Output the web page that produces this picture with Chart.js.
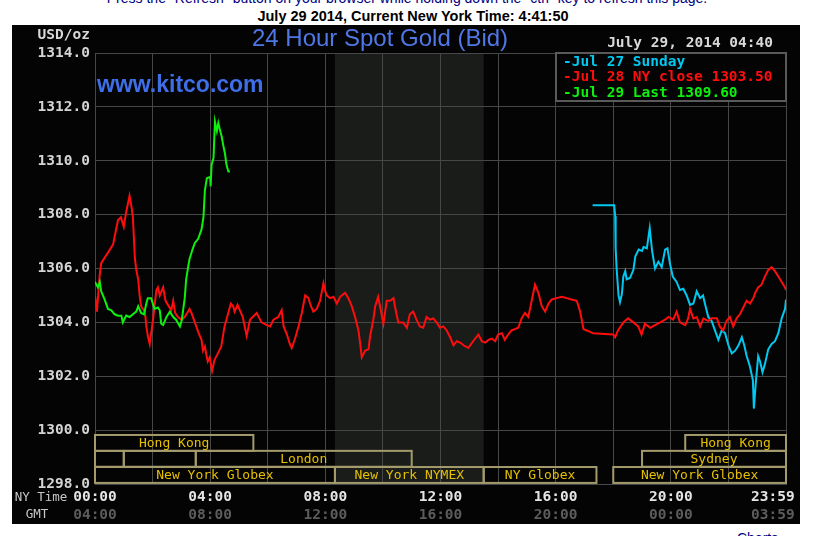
<!DOCTYPE html>
<html>
<head>
<meta charset="utf-8">
<title>24 Hour Spot Gold (Bid)</title>
<script src="https://cdn.jsdelivr.net/npm/chart.js@4.4.1/dist/chart.umd.min.js"></script>
<style>
  html, body { margin: 0; padding: 0; background: #fff; }
  body { width: 814px; height: 536px; overflow: hidden; position: relative; font-family: "Liberation Sans", Arial, sans-serif; }
  #note { position: absolute; top: -10px; left: 0; width: 814px; text-align: center; font-size: 14px; color: #000080; white-space: nowrap; }
  #stamp { position: absolute; top: 8px; left: 6px; width: 814px; text-align: center; font-size: 14.5px; font-weight: bold; color: #000; white-space: nowrap; }
  #more { position: absolute; top: 530px; left: 737px; font-size: 14px; color: #000080; }
  #chart { position: absolute; left: 12px; top: 25px; background: #040404; }
</style>
</head>
<body>
<div id="note">Press the "Refresh" button on your browser while holding down the "ctrl" key to refresh this page.</div>
<div id="stamp">July 29 2014, Current New York Time: 4:41:50</div>
<canvas id="chart" width="788" height="499"></canvas>
<div id="more">Charts</div>
<script>
// time is minutes after midnight, New York time
const jul27Sunday = [
  [1037, 1308.35], [1082, 1308.35], [1084, 1307.95], [1085, 1306.75], [1087, 1306.0], [1091, 1305.0],
  [1094, 1304.75], [1098, 1305.05], [1101, 1305.7], [1105, 1305.9], [1108, 1305.6], [1115, 1305.65],
  [1122, 1305.95], [1126, 1306.45], [1133, 1306.7], [1140, 1306.65], [1143, 1306.8], [1150, 1306.75],
  [1156, 1307.5], [1161, 1306.65], [1167, 1306.0], [1174, 1306.25], [1181, 1306.05], [1188, 1306.7],
  [1193, 1306.75], [1198, 1306.2], [1204, 1305.7], [1212, 1305.5], [1219, 1305.2], [1226, 1305.25],
  [1233, 1305.0], [1240, 1304.65], [1247, 1304.7], [1254, 1305.15], [1261, 1304.9], [1267, 1305.0],
  [1271, 1304.7], [1278, 1304.2], [1285, 1304.05], [1292, 1303.7], [1299, 1303.35], [1306, 1303.7],
  [1313, 1303.6], [1320, 1303.15], [1327, 1302.85], [1334, 1302.95], [1341, 1303.15], [1348, 1303.45],
  [1353, 1303.15], [1358, 1302.75], [1365, 1302.35], [1371, 1301.85], [1373, 1300.8], [1377, 1301.75],
  [1382, 1302.75], [1386, 1302.55], [1391, 1302.15], [1396, 1302.45], [1403, 1303.0], [1410, 1303.2],
  [1417, 1303.3], [1424, 1303.6], [1431, 1304.15], [1438, 1304.5], [1440, 1304.85]
];

const jul28Close = [
  [0, 1305.0], [4, 1304.4], [10, 1305.8], [13, 1306.2], [20, 1306.4], [31, 1306.7], [38, 1306.9],
  [41, 1307.2], [48, 1307.8], [54, 1307.9], [60, 1307.55], [65, 1308.1], [72, 1308.7], [76, 1308.3],
  [79, 1307.9], [83, 1306.4], [86, 1305.95], [90, 1305.6], [93, 1305.0], [96, 1304.6], [104, 1304.4],
  [107, 1303.85], [110, 1303.5], [114, 1303.2], [117, 1303.6], [121, 1304.1], [124, 1304.6], [128, 1305.2],
  [131, 1305.3], [135, 1305.0], [142, 1305.3], [147, 1304.8], [152, 1304.65], [159, 1304.45], [163, 1304.8],
  [167, 1304.35], [173, 1304.2], [180, 1304.1], [187, 1304.2], [194, 1304.4], [197, 1304.5], [201, 1304.35],
  [206, 1304.1], [211, 1303.85], [216, 1303.6], [222, 1303.35], [225, 1302.95], [229, 1303.1], [232, 1302.8],
  [235, 1302.55], [239, 1302.7], [244, 1302.2], [249, 1302.6], [256, 1302.85], [263, 1303.1], [270, 1303.85],
  [277, 1304.3], [283, 1304.7], [288, 1304.6], [291, 1304.4], [297, 1304.65], [308, 1304.2], [316, 1303.5],
  [323, 1304.1], [337, 1304.35], [347, 1304.0], [358, 1303.9], [365, 1303.85], [372, 1304.1], [382, 1304.2],
  [389, 1304.45], [393, 1303.85], [400, 1303.55], [406, 1303.2], [410, 1303.05], [417, 1303.4], [424, 1303.85],
  [431, 1304.35], [438, 1305.0], [445, 1304.9], [448, 1304.7], [455, 1304.4], [462, 1304.5], [469, 1304.8],
  [476, 1305.45], [479, 1305.2], [483, 1305.0], [490, 1304.9], [497, 1304.95], [504, 1304.7], [511, 1304.95],
  [521, 1305.1], [528, 1304.9], [535, 1304.6], [542, 1304.2], [549, 1303.7], [552, 1303.3], [556, 1302.7],
  [563, 1302.95], [570, 1303.0], [573, 1303.45], [580, 1304.1], [584, 1304.6], [590, 1304.95], [594, 1304.6],
  [601, 1303.95], [608, 1304.8], [615, 1304.8], [622, 1304.9], [625, 1304.6], [632, 1304.0], [642, 1304.0],
  [650, 1303.8], [656, 1304.3], [663, 1304.4], [670, 1304.1], [677, 1303.85], [684, 1303.8], [691, 1304.2],
  [698, 1304.1], [705, 1304.15], [712, 1304.0], [719, 1303.8], [726, 1303.85], [733, 1303.7], [740, 1303.45],
  [747, 1303.15], [754, 1303.3], [761, 1303.25], [768, 1303.15], [778, 1303.05], [788, 1303.3], [799, 1303.55],
  [806, 1303.3], [813, 1303.25], [820, 1303.35], [827, 1303.4], [834, 1303.3], [840, 1303.55], [848, 1303.6],
  [854, 1303.35], [861, 1303.55], [868, 1303.7], [875, 1303.75], [882, 1303.8], [889, 1304.15], [896, 1304.35],
  [903, 1304.2], [910, 1304.8], [917, 1305.4], [924, 1305.1], [931, 1304.6], [938, 1304.4], [945, 1304.7],
  [952, 1304.85], [962, 1304.9], [973, 1304.95], [983, 1304.9], [993, 1304.85], [1004, 1304.8], [1011, 1304.4],
  [1018, 1303.75], [1025, 1303.7], [1032, 1303.65], [1038, 1303.6], [1080, 1303.55], [1084, 1303.45],
  [1090, 1303.7], [1101, 1304.0], [1111, 1304.15], [1122, 1304.0], [1132, 1303.85], [1139, 1303.55],
  [1146, 1303.95], [1157, 1303.8], [1167, 1303.9], [1178, 1304.0], [1188, 1304.1], [1195, 1304.2],
  [1205, 1304.1], [1212, 1304.4], [1219, 1304.0], [1230, 1303.9], [1236, 1304.15], [1240, 1304.5],
  [1247, 1304.15], [1254, 1304.2], [1261, 1303.85], [1268, 1304.15], [1278, 1304.05], [1285, 1304.15],
  [1296, 1304.15], [1302, 1303.85], [1309, 1303.7], [1316, 1304.05], [1323, 1304.2], [1330, 1303.85],
  [1337, 1304.15], [1344, 1304.3], [1351, 1304.55], [1358, 1304.8], [1365, 1304.7], [1372, 1304.9],
  [1376, 1305.1], [1382, 1305.3], [1389, 1305.4], [1396, 1305.7], [1403, 1305.95], [1410, 1306.05],
  [1417, 1305.9], [1424, 1305.7], [1431, 1305.5], [1438, 1305.3], [1440, 1305.2]
];

const jul29Last = [
  [0, 1305.5], [6, 1305.3], [10, 1305.5], [13, 1305.15], [20, 1304.85], [27, 1304.5], [34, 1304.45],
  [41, 1304.3], [48, 1304.25], [55, 1304.25], [58, 1304.0], [65, 1304.25], [72, 1304.2], [79, 1304.3],
  [86, 1304.4], [90, 1304.6], [96, 1304.35], [102, 1304.3], [107, 1304.7], [110, 1304.9], [117, 1304.9],
  [124, 1304.5], [131, 1304.55], [135, 1304.45], [138, 1303.95], [142, 1303.9], [149, 1304.2], [156, 1304.4],
  [163, 1304.2], [169, 1304.1], [177, 1303.85], [181, 1304.1], [187, 1304.9], [190, 1305.6], [194, 1306.05],
  [197, 1306.35], [204, 1306.75], [208, 1306.95], [215, 1307.1], [222, 1307.45], [226, 1307.9], [229, 1308.9],
  [233, 1309.35], [240, 1309.4], [241, 1309.05], [243, 1309.85], [247, 1310.1], [250, 1311.45], [254, 1311.1],
  [257, 1311.4], [261, 1311.1], [264, 1310.9], [267, 1310.6], [271, 1310.25], [274, 1309.85], [278, 1309.6],
  [281, 1309.6]
];

const seriesLabels = ["Jul 27 Sunday", "Jul 28 NY close 1303.50", "Jul 29 Last 1309.60"];
const nyTimeLabels = ["00:00", "04:00", "08:00", "12:00", "16:00", "20:00", "23:59"];
const gmtLabels = ["04:00", "08:00", "12:00", "16:00", "20:00", "00:00", "03:59"];

// trading sessions: [start, end, name], one list per strip
const asiaStrip = [[0, 330, "Hong Kong"], [1230, 1440, "Hong Kong"]];
const londonStrip = [[0, 60, ""], [60, 210, ""], [210, 660, "London"], [1140, 1440, "Sydney"]];
const newYorkStrip = [[0, 500, "New York Globex"], [500, 810, "New York NYMEX"], [810, 1045, "NY Globex"], [1080, 1440, "New York Globex"]];
const nymexFloor = [500, 810];

const MONO = "DejaVu Sans Mono";
const COLORS = ["#00c8f0", "#ff0d0d", "#0df00d"];
const GRID = "#474747";

function toPoints(series) {
  return series.map(p => ({ x: p[0], y: p[1] }));
}

const kitcoFrame = {
  id: "kitcoFrame",
  beforeDraw(chart) {
    const { ctx, chartArea: a, scales: { x } } = chart;
    ctx.save();
    ctx.fillStyle = "#040404";
    ctx.fillRect(0, 0, chart.width, chart.height);
    const l = x.getPixelForValue(nymexFloor[0]);
    const r = x.getPixelForValue(nymexFloor[1]);
    ctx.fillStyle = "#1a1c1a";
    ctx.fillRect(l, a.top, r - l, a.bottom - a.top);
    ctx.restore();
  },
  beforeDatasetsDraw(chart) {
    const { ctx, scales: { x, y } } = chart;
    const stripTops = [1299.82, 1299.23, 1298.63];
    const stripDepth = 0.59;
    ctx.save();
    ctx.lineWidth = 2;
    ctx.strokeStyle = "#a39b6c";
    ctx.fillStyle = "#e6c000";
    ctx.font = "13px " + MONO;
    ctx.textAlign = "center";
    ctx.textBaseline = "middle";
    [asiaStrip, londonStrip, newYorkStrip].forEach((strip, i) => {
      const top = y.getPixelForValue(stripTops[i]);
      const bottom = y.getPixelForValue(stripTops[i] - stripDepth);
      strip.forEach(s => {
        const l = x.getPixelForValue(s[0]);
        const r = x.getPixelForValue(s[1]);
        ctx.strokeRect(l, top, r - l, bottom - top);
        if (s[2]) ctx.fillText(s[2], (l + r) / 2, (top + bottom) / 2 + 1);
      });
    });
    ctx.restore();
  },
  afterDraw(chart) {
    const { ctx, chartArea: a } = chart;
    ctx.save();
    ctx.textBaseline = "middle";

    ctx.fillStyle = "#4f78e6";
    ctx.font = "24px 'Liberation Sans', Arial, sans-serif";
    ctx.textAlign = "center";
    ctx.fillText("24 Hour Spot Gold (Bid)", 368, 14);

    ctx.fillStyle = "#3f6fe8";
    ctx.font = "bold 23px 'Liberation Sans', Arial, sans-serif";
    ctx.textAlign = "left";
    ctx.fillText("www.kitco.com", 85, 61);

    ctx.font = "bold 14.5px " + MONO;
    ctx.fillStyle = "#d8d8d8";
    ctx.textAlign = "right";
    ctx.fillText("July 29, 2014 04:40", 761, 18);
    ctx.fillText("USD/oz", 78, 10);

    ctx.font = "12.5px " + MONO;
    ctx.fillStyle = "#c8c8c8";
    ctx.textAlign = "center";
    ctx.fillText("NY Time", 29, 473);
    ctx.fillText("GMT", 25, 490);

    // legend box in the top right corner of the plot
    const w = 230, h = 48;
    ctx.fillStyle = "#040404";
    ctx.fillRect(a.right - w, a.top, w, h);
    ctx.strokeStyle = "#5a5a5a";
    ctx.lineWidth = 2;
    ctx.strokeRect(a.right - w, a.top, w, h);
    ctx.font = "bold 14.5px " + MONO;
    ctx.textAlign = "left";
    seriesLabels.forEach((label, i) => {
      ctx.fillStyle = COLORS[i];
      ctx.fillText("-" + label, a.right - w + 7, a.top + 9 + i * 15.5);
    });
    ctx.restore();
  }
};

const tickFont = { family: MONO, size: 14.5, weight: "bold" };

new Chart(document.getElementById("chart"), {
  type: "line",
  data: {
    datasets: [
      { label: seriesLabels[2], data: toPoints(jul29Last), borderColor: COLORS[2] },
      { label: seriesLabels[1], data: toPoints(jul28Close), borderColor: COLORS[1] },
      { label: seriesLabels[0], data: toPoints(jul27Sunday), borderColor: COLORS[0] }
    ]
  },
  options: {
    responsive: false,
    animation: false,
    events: [],
    devicePixelRatio: 1,
    layout: { padding: { top: 28, right: 14, bottom: 0, left: 0 } },
    elements: {
      line: { borderWidth: 2, tension: 0 },
      point: { radius: 0 }
    },
    plugins: { legend: { display: false }, tooltip: { enabled: false } },
    scales: {
      x: {
        type: "linear", position: "bottom", weight: 0, min: 0, max: 1440,
        grid: { color: GRID, drawTicks: false },
        border: { color: GRID },
        ticks: {
          stepSize: 120, autoSkip: false, maxRotation: 0, padding: 5,
          color: "#e4e4e4", font: tickFont,
          callback: v => v % 240 === 0 ? nyTimeLabels[v / 240] + (v === 1440 ? "   " : "") : ""
        },
        afterFit: s => { s.height = 22; s.paddingLeft = 0; s.paddingRight = 0; }
      },
      gmt: {
        type: "linear", position: "bottom", weight: 1, min: 0, max: 1440,
        grid: { display: false, drawTicks: false },
        border: { display: false },
        ticks: {
          stepSize: 240, autoSkip: false, maxRotation: 0, padding: 1,
          color: "#5c5c5c", font: tickFont,
          callback: v => gmtLabels[v / 240] + (v === 1440 ? "   " : "")
        },
        afterFit: s => { s.height = 18; s.paddingLeft = 0; s.paddingRight = 0; }
      },
      y: {
        min: 1298, max: 1314,
        grid: { color: GRID, drawTicks: false },
        border: { color: GRID },
        ticks: { stepSize: 2, padding: 5, color: "#d4d4d4", font: tickFont, callback: v => v.toFixed(1) },
        afterFit: s => { s.width = 83; }
      }
    }
  },
  plugins: [kitcoFrame]
});
</script>
</body>
</html>
